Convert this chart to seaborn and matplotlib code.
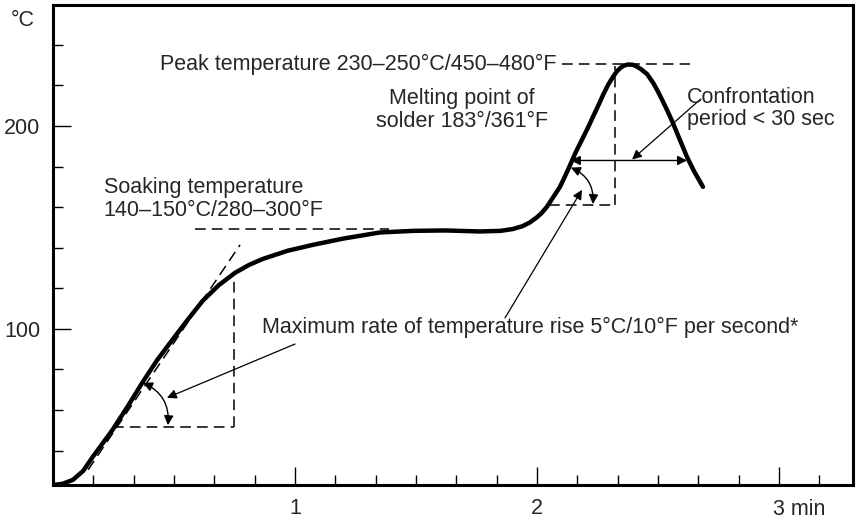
import matplotlib
matplotlib.use("Agg")
import matplotlib.pyplot as plt
import seaborn as sns
import pandas as pd
from matplotlib.patches import FancyArrowPatch

# Reflow profile (time in minutes, temperature in deg C)
time_min = [0.0, 0.04, 0.083, 0.125, 0.165, 0.205, 0.245, 0.31, 0.372, 0.43,
            0.496, 0.56, 0.62, 0.685, 0.752, 0.81, 0.868, 0.97, 1.074, 1.2,
            1.351, 1.488, 1.62, 1.764, 1.85, 1.90, 1.94, 1.97, 2.0, 2.02,
            2.04, 2.065, 2.095, 2.115, 2.136, 2.16, 2.185, 2.21, 2.231, 2.255,
            2.275, 2.295, 2.314, 2.33, 2.345, 2.36, 2.376, 2.395, 2.41, 2.43,
            2.455, 2.48, 2.5, 2.52, 2.537, 2.56, 2.58, 2.60, 2.62, 2.65, 2.686]
temp_c = [23.0, 23.6, 25.6, 30.0, 37.0, 43.5, 50.0, 62.0, 74.0, 84.5,
          95.0, 105.0, 114.0, 121.5, 127.6, 131.5, 134.5, 138.5, 141.4, 144.5,
          147.5, 148.3, 148.5, 148.0, 148.3, 149.2, 150.6, 152.4, 155.0, 157.2,
          160.0, 164.5, 170.0, 175.0, 180.5, 187.0, 193.0, 199.0, 204.4, 210.5,
          215.8, 220.5, 224.2, 226.9, 228.7, 229.8, 230.3, 230.2, 229.5, 228.0,
          225.6, 221.3, 217.0, 212.2, 208.0, 202.0, 196.2, 190.5, 184.7, 177.5,
          170.0]

x_major = [1, 2, 3]
x_labels = ["1", "2", ""]
y_major = [100, 200]
y_labels = ["100", "200"]

# guide levels (deg C)
soak_level = 149.3
peak_level = 230.5
melt_level = 183.0
rate_low_level = 51.7
rate_high_level = 161.0

df = pd.DataFrame({"time": time_min, "temp": temp_c})

sns.set_style("white")
plt.rcParams["font.family"] = ["Liberation Sans", "DejaVu Sans"]
plt.rcParams["font.size"] = 15.5
FS = 15.5

fig = plt.figure(figsize=(8.58, 5.23), dpi=100)
ax = fig.add_axes([53 / 858, 1 - 485 / 523, 800 / 858, 480.3 / 523])

sns.lineplot(data=df, x="time", y="temp", color="black", lw=3.2, ax=ax,
             estimator=None, sort=False)

ax.set_xlim(0, 3.306)
ax.set_ylim(23, 259.8)
ax.set_xlabel("")
ax.set_ylabel("")

for s in ax.spines.values():
    s.set_linewidth(2.2)
    s.set_color("black")

ax.set_xticks(x_major)
ax.set_xticklabels(x_labels)
ax.set_yticks(y_major)
ax.set_yticklabels(y_labels)
ax.set_xticks([i / 6 for i in range(1, 20) if i % 6 != 0], minor=True)
ax.set_yticks(list(range(40, 260, 20)), minor=True)
ax.tick_params(which="major", direction="in", length=13, width=1.0,
               color="black", pad=9, labelsize=FS)
ax.tick_params(which="minor", direction="in", length=7, width=1.0,
               color="black")
ax.tick_params(axis="y", which="both", left=True, right=False)
ax.tick_params(axis="x", which="both", bottom=True, top=False)

ax.annotate("3 min", xy=(3, 0), xycoords=("data", "axes fraction"),
            xytext=(-4.5, -10), textcoords="offset points",
            ha="left", va="top", fontsize=FS)
fig.text(23 / 858, 1 - 20 / 523, "°C", ha="center", va="center", fontsize=FS)

dash = dict(color="black", lw=1.1, ls=(0, (7, 4)))

# soaking level
ax.plot([0.587, 1.39], [soak_level, soak_level], **dash)
# peak level and its box
ax.plot([2.103, 2.632], [peak_level, peak_level], **dash)
ax.plot([2.322, 2.322], [rate_high_level, peak_level - 1], **dash)
ax.plot([2.05, 2.322], [rate_high_level, rate_high_level], **dash)
# lower rate box and tangent
ax.plot([0.248, 0.748], [rate_low_level, rate_low_level], **dash)
ax.plot([0.748, 0.748], [rate_low_level, 128], **dash)
ax.plot([0.145, 0.773], [30.5, 141.4], **dash)


def arrow(p0, p1, style="-|>", rad=0.0, lw=0.9):
    a = FancyArrowPatch(p0, p1, arrowstyle=style, mutation_scale=14,
                        connectionstyle=f"arc3,rad={rad}", color="black",
                        lw=lw, shrinkA=0, shrinkB=0)
    ax.add_patch(a)


# angle arcs
arrow((0.372, 73.4), (0.475, 52.5), style="<|-|>", rad=-0.35, lw=1.0)
arrow((2.14, 179.5), (2.231, 161.5), style="<|-|>", rad=-0.35, lw=1.0)
# confrontation period span
arrow((2.14, melt_level), (2.62, melt_level), style="<|-|>", lw=1.0)

# pointers from labels
arrow((1.0, 92.5), (0.471, 66.0))
arrow((1.868, 105.4), (2.186, 168.5))
arrow((2.674, 213.0), (2.393, 183.5))

ax.text(0.442, peak_level, "Peak temperature 230–250°C/450–480°F",
        ha="left", va="center", fontsize=FS)
ax.text(1.69, 207.8, "Melting point of\nsolder 183°/361°F",
        ha="center", va="center", fontsize=FS, linespacing=1.1)
ax.text(2.62, 208.6, "Confrontation\nperiod < 30 sec",
        ha="left", va="center", fontsize=FS, linespacing=1.05)
ax.text(0.21, 164.0, "Soaking temperature\n140–150°C/280–300°F",
        ha="left", va="center", fontsize=FS, linespacing=1.1)
ax.text(0.864, 100.5, "Maximum rate of temperature rise 5°C/10°F per second*",
        ha="left", va="center", fontsize=FS)

fig.savefig("out.png", dpi=100, facecolor="white")
